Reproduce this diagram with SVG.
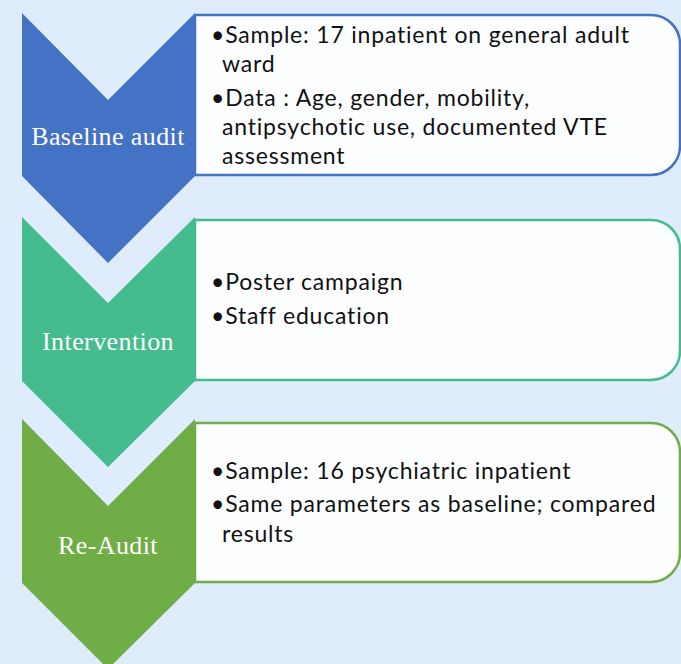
<svg xmlns="http://www.w3.org/2000/svg" width="681" height="664" viewBox="0 0 681 664">
<style>
.bg{fill:#DFECFC}
.lbl{font-family:"Liberation Serif",serif;font-size:26px;letter-spacing:0.4px;fill:#FFFFFF;text-anchor:middle}
.txt{font-family:Lato,"Liberation Sans",sans-serif;font-size:23px;letter-spacing:0.8px;fill:#111111}
.box{fill:#FDFEFF;stroke-width:2.5}
</style>
<rect class="bg" x="0" y="0" width="681" height="664"/>
<g id="connectors"></g>
<g id="baseline">
<path class="box" stroke="#4472C4" d="M195,15 H651 A29,29 0 0 1 680,44 V146 A29,29 0 0 1 651,175 H195 Z"/>
<polygon fill="#4472C4" points="22,13 108,100 195,13 195,176 108,263 22,176"/>
<text class="lbl" x="108" y="145">Baseline audit</text>
<text class="txt"><tspan x="211" y="43">•Sample: 17 inpatient on general adult</tspan><tspan x="222" y="72">ward</tspan><tspan x="211" y="106">•Data : Age, gender, mobility,</tspan><tspan x="222" y="135">antipsychotic use, documented VTE</tspan><tspan x="222" y="164">assessment</tspan></text>
</g>
<g id="intervention">
<path class="box" stroke="#44BC8D" d="M195,220 H651 A29,29 0 0 1 680,249 V351 A29,29 0 0 1 651,380 H195 Z"/>
<polygon fill="#44BC8D" points="22,217 108,303 195,217 195,381 108,467 22,381"/>
<text class="lbl" x="108" y="350">Intervention</text>
<text class="txt"><tspan x="211" y="290">•Poster campaign</tspan><tspan x="211" y="324">•Staff education</tspan></text>
</g>
<g id="reaudit">
<path class="box" stroke="#70AD47" d="M195,423 H651 A29,29 0 0 1 680,452 V553 A29,29 0 0 1 651,582 H195 Z"/>
<polygon fill="#70AD47" points="22,419 108,506 195,419 195,583 108,669 22,583"/>
<text class="lbl" x="108" y="554">Re-Audit</text>
<text class="txt"><tspan x="211" y="479">•Sample: 16 psychiatric inpatient</tspan><tspan x="211" y="512">•Same parameters as baseline; compared</tspan><tspan x="222" y="542">results</tspan></text>
</g>
</svg>
